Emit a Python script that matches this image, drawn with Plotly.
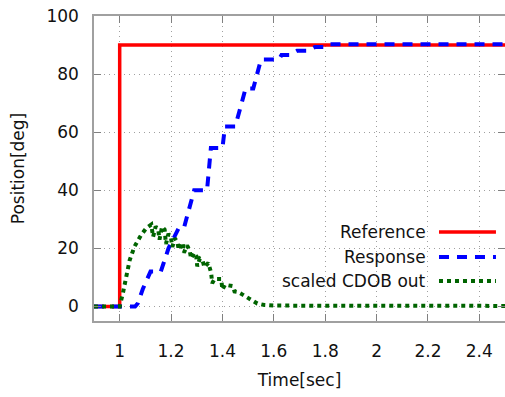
import plotly.graph_objects as go

# ---- data ----
ref_t = [0.9, 1.0, 1.0, 2.5]
ref_v = [0, 0, 90, 90]

resp_t = [0.9, 1.06, 1.07, 1.09, 1.12, 1.16, 1.19, 1.23, 1.25, 1.29, 1.34, 1.355,
          1.40, 1.41, 1.45, 1.49, 1.52, 1.55, 1.62, 1.63, 1.66, 1.69, 1.73, 1.76,
          1.80, 1.82, 2.5]
resp_v = [0, 0, 1, 6, 12, 12, 20, 27, 27, 40, 40, 54.6,
          54.6, 62, 62, 75, 75, 85, 85, 86.6, 86.6, 88, 88, 89.3,
          89.3, 90.3, 90.3]

cdob_t = [0.9, 1.0, 1.013, 1.026, 1.039, 1.058, 1.084, 1.104, 1.123, 1.13, 1.14, 1.15,
          1.155, 1.165, 1.175, 1.18, 1.19, 1.2, 1.205, 1.215, 1.225, 1.23, 1.245, 1.25,
          1.262, 1.272, 1.278, 1.29, 1.298, 1.302, 1.312, 1.322, 1.33, 1.345, 1.356, 1.36,
          1.37, 1.395, 1.4, 1.41, 1.44, 1.447, 1.46, 1.48, 1.497, 1.517, 1.536, 1.563,
          1.6, 2.5]
cdob_v = [0, 0, 4.8, 10.4, 16, 20.7, 24.7, 27, 28.2, 24, 27.5, 26.5,
          23, 27.5, 26.5, 21.5, 25, 23.5, 20.5, 23.5, 22, 19.5, 22, 18.5,
          21, 19.5, 16.5, 18.5, 17.3, 13.8, 16.5, 16, 13.5, 15, 11.6, 8,
          9.5, 9.5, 5.8, 7.5, 7, 5.2, 5, 4, 3, 1.8, 1, 0.5,
          0.3, 0.2]

x_ticks = [1, 1.2, 1.4, 1.6, 1.8, 2, 2.2, 2.4]
x_tick_text = ["1", "1.2", "1.4", "1.6", "1.8", "2", "2.2", "2.4"]
y_ticks = [0, 20, 40, 60, 80, 100]

names = ["Reference", "Response", "scaled CDOB out"]
colors = ["#ff0000", "#0000ff", "#006400"]
dashes = ["solid", "10px,8px", "dot"]
widths = [3.5, 4, 4]

FONT = "DejaVu Sans"
FS = 17

fig = go.Figure()
series = [(ref_t, ref_v), (resp_t, resp_v), (cdob_t, cdob_v)]
for (t, v), n, c, d, w in zip(series, names, colors, dashes, widths):
    fig.add_trace(go.Scatter(x=t, y=v, mode="lines", name=n,
                             line=dict(color=c, dash=d, width=w),
                             showlegend=False))

# legend (gnuplot style: text left, sample right)
leg_y = [0.292, 0.210, 0.131]
for n, c, d, w, yy in zip(names, colors, dashes, widths, leg_y):
    fig.add_annotation(x=0.8127, y=yy, xref="paper", yref="paper", text=n,
                       showarrow=False, xanchor="right", yanchor="middle",
                       font=dict(size=FS, color="#111", family=FONT))
    fig.add_shape(type="line", xref="paper", yref="paper", x0=0.8394, x1=0.978,
                  y0=yy, y1=yy, line=dict(color=c, dash=d, width=w))

axis_common = dict(showline=True, linecolor="#a0a0a0", linewidth=1.5, mirror="ticks",
                   ticks="inside", ticklen=7, tickcolor="#808080", tickwidth=1,
                   showgrid=True, gridcolor="#a0a0a0", griddash="1px,4px", gridwidth=1,
                   zeroline=False, automargin=False, ticklabeloverflow="allow",
                   tickfont=dict(size=FS, color="#111", family=FONT))

fig.update_xaxes(range=[0.9, 2.5], tickvals=x_ticks, ticktext=x_tick_text,
                 title=dict(text="Time[sec]", font=dict(size=FS, color="#111", family=FONT),
                            standoff=14),
                 ticklabelstandoff=14, **axis_common)
fig.update_yaxes(range=[-5, 100], tickvals=y_ticks,
                 title=dict(text="Position[deg]", font=dict(size=FS, color="#111", family=FONT),
                            standoff=17),
                 ticklabelstandoff=10, **axis_common)

fig.update_layout(width=505, height=397, margin=dict(l=94, r=0, t=16, b=76),
                  paper_bgcolor="white", plot_bgcolor="white",
                  font=dict(family=FONT))

# remove the page's default 8px body margin so the figure fills the window
fig.write_html("out.html", config={"displayModeBar": False},
               post_script="document.body.style.margin='0';")
